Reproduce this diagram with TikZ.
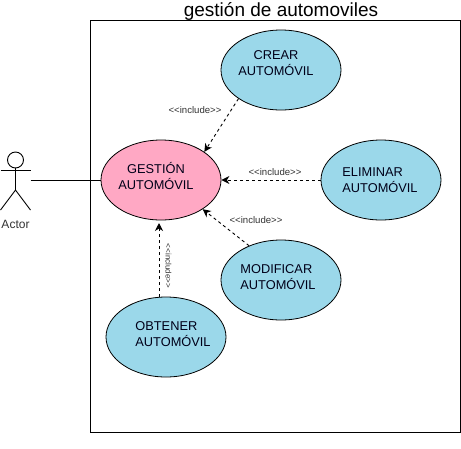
\documentclass[tikz,border=0pt]{standalone}
\usepackage{fontspec}
\setmainfont{Liberation Sans}
\usetikzlibrary{shapes.geometric, arrows.meta}
\usetikzlibrary{positioning}
\definecolor{casefill}{RGB}{155,216,234}
\definecolor{mainfill}{RGB}{255,168,196}
\definecolor{labelgray}{RGB}{50,50,50}

\begin{document}
\begin{tikzpicture}[x=1pt, y=1pt, align=center, node distance=110pt]

\tikzstyle{usecase} = [ellipse, minimum width=120pt, minimum height=80pt, inner sep=0pt, draw=black, line width=0.8pt, fill=casefill]
\tikzstyle{casetext} = [inner sep=0pt, font=\fontsize{12.8}{16.5}\selectfont, text=black!90!blue]
\tikzstyle{incl} = [inner sep=0pt, font=\fontsize{9.6}{10}\selectfont, text=labelgray]
\tikzstyle{arrow} = [line width=0.9pt, dashed, dash pattern=on 3pt off 3pt, -{Stealth[length=8pt,width=8pt,inset=2.5pt]}]
\tikzstyle{stick} = [line width=0.9pt, draw=black]

\useasboundingbox (0,0) rectangle (461,-448);

\node (frame) [draw=black, line width=1pt, minimum width=370pt, minimum height=412pt, inner sep=0pt] at (275,-226) {};
\node (title) [font=\fontsize{19}{21}\selectfont] at (281,-11) {gestión de automoviles};

\node (gestion) [usecase, fill=mainfill] at (161,-180) {};
\node (eliminar) [usecase, right of=gestion, node distance=220pt] {};
\node (crear) [usecase, above of=gestion, xshift=120pt] {};
\node (modificar) [usecase, below of=gestion, node distance=100pt, xshift=120pt] {};
\node (obtener) [usecase, below of=gestion, node distance=157pt, xshift=5pt] {};

\node (gestiontxt) [casetext] at (156,-176) {GESTIÓN\\AUTOMÓVIL};
\node (creartxt) [casetext] at (276,-63) {CREAR\\AUTOMÓVIL};
\node (eliminartxt) [casetext, align=left] at (380,-180) {ELIMINAR\\AUTOMÓVIL};
\node (modificartxt) [casetext, align=left] at (278,-277) {MODIFICAR\\AUTOMÓVIL};
\node (obtenertxt) [casetext, align=left] at (173,-334) {OBTENER\\AUTOMÓVIL};

% actor
\node (head) [circle, stick, minimum size=16pt, inner sep=0pt] at (15.5,-160) {};
\coordinate (hip) at (15.5,-190);
\coordinate (armL) at (0.5,-170);
\coordinate (armR) at (30.5,-170);
\coordinate (footL) at (0.5,-210);
\coordinate (footR) at (30.5,-210);
\coordinate (hand) at (30.5,-180);
\coordinate (obtenertop) at (159,-297);
\coordinate (gestionlow) at (159,-223);
\node (actor) [font=\fontsize{12}{14}\selectfont, text=labelgray] at (15.5,-224) {Actor};
\draw [stick] (head) -- (hip);
\draw [stick] (armL) -- (armR);
\draw [stick] (footL) -- (hip) -- (footR);
\draw [stick] (hand) -- (gestion);

\draw [arrow] (crear.214) -- (gestion.33);
\draw [arrow] (eliminar) -- (gestion);
\draw [arrow] (modificar.133) -- (gestion.-35);
\draw [arrow] (obtenertop) -- (gestionlow);

\node (incla) [incl] at (195,-110) {<{}<include>{}>};
\node (inclb) [incl] at (275,-172) {<{}<include>{}>};
\node (inclc) [incl] at (256,-220) {<{}<include>{}>};
\node (incld) [incl, rotate=-90, font=\fontsize{8}{9}\selectfont] at (168.5,-266) {<{}<include>{}>};
\end{tikzpicture}
\end{document}
